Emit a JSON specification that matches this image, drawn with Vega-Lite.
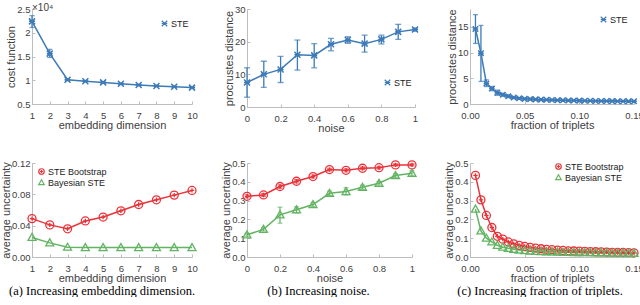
{
  "$schema": "https://vega.github.io/schema/vega-lite/v6.json",
  "padding": {"left": 0, "top": 3, "right": 0, "bottom": 0},
  "background": "white",
  "datasets": {
    "p1": [
      {"x": 1, "y": 22400, "lo": 21100, "hi": 23600},
      {"x": 2, "y": 15600, "lo": 14800, "hi": 16500},
      {"x": 3, "y": 10100, "lo": 9900, "hi": 10300},
      {"x": 4, "y": 9800, "lo": 9650, "hi": 9950},
      {"x": 5, "y": 9550, "lo": 9400, "hi": 9700},
      {"x": 6, "y": 9250, "lo": 9100, "hi": 9400},
      {"x": 7, "y": 9000, "lo": 8850, "hi": 9150},
      {"x": 8, "y": 8800, "lo": 8650, "hi": 8950},
      {"x": 9, "y": 8650, "lo": 8500, "hi": 8800},
      {"x": 10, "y": 8450, "lo": 8300, "hi": 8600}
    ],
    "p2": [
      {"x": 0, "y": 7.5, "lo": 3, "hi": 12},
      {"x": 0.1, "y": 10, "lo": 6, "hi": 14},
      {"x": 0.2, "y": 11.5, "lo": 7.5, "hi": 15.5},
      {"x": 0.3, "y": 16, "lo": 11.3, "hi": 20.5},
      {"x": 0.4, "y": 15.8, "lo": 12, "hi": 19.4},
      {"x": 0.5, "y": 19.2, "lo": 17.2, "hi": 21},
      {"x": 0.6, "y": 20.5, "lo": 19.5, "hi": 21.5},
      {"x": 0.7, "y": 19.4, "lo": 16.8, "hi": 22},
      {"x": 0.8, "y": 20.7, "lo": 19.3, "hi": 22},
      {"x": 0.9, "y": 23, "lo": 20.7, "hi": 25.3},
      {"x": 1.0, "y": 23.7, "lo": 23.2, "hi": 24.2}
    ],
    "p3": [
      {"x": 0.005, "y": 14.6, "lo": 11.8, "hi": 17.4},
      {"x": 0.010, "y": 9.9, "lo": 4.4, "hi": 15.3},
      {"x": 0.015, "y": 4.0, "lo": 3.4, "hi": 4.7},
      {"x": 0.020, "y": 3.0, "lo": 2.6, "hi": 3.4},
      {"x": 0.025, "y": 2.2, "lo": 1.7, "hi": 2.7},
      {"x": 0.030, "y": 1.8, "lo": 1.5, "hi": 2.1},
      {"x": 0.035, "y": 1.5, "lo": 1.25, "hi": 1.8},
      {"x": 0.040, "y": 1.25, "lo": 1.05, "hi": 1.45},
      {"x": 0.045, "y": 1.1, "lo": 0.95, "hi": 1.25},
      {"x": 0.050, "y": 1.0, "lo": 0.85, "hi": 1.15},
      {"x": 0.055, "y": 0.95, "lo": 0.8, "hi": 1.1},
      {"x": 0.060, "y": 0.9, "lo": 0.77, "hi": 1.03},
      {"x": 0.065, "y": 0.85, "lo": 0.73, "hi": 0.97},
      {"x": 0.070, "y": 0.82, "lo": 0.7, "hi": 0.94},
      {"x": 0.075, "y": 0.78, "lo": 0.67, "hi": 0.89},
      {"x": 0.080, "y": 0.75, "lo": 0.65, "hi": 0.85},
      {"x": 0.085, "y": 0.72, "lo": 0.62, "hi": 0.82},
      {"x": 0.090, "y": 0.7, "lo": 0.6, "hi": 0.8},
      {"x": 0.095, "y": 0.68, "lo": 0.59, "hi": 0.77},
      {"x": 0.100, "y": 0.66, "lo": 0.57, "hi": 0.75},
      {"x": 0.105, "y": 0.64, "lo": 0.56, "hi": 0.72},
      {"x": 0.110, "y": 0.62, "lo": 0.54, "hi": 0.7},
      {"x": 0.115, "y": 0.6, "lo": 0.53, "hi": 0.67},
      {"x": 0.120, "y": 0.58, "lo": 0.51, "hi": 0.65},
      {"x": 0.125, "y": 0.57, "lo": 0.5, "hi": 0.64},
      {"x": 0.130, "y": 0.56, "lo": 0.49, "hi": 0.63},
      {"x": 0.135, "y": 0.55, "lo": 0.48, "hi": 0.62},
      {"x": 0.140, "y": 0.54, "lo": 0.47, "hi": 0.61},
      {"x": 0.145, "y": 0.53, "lo": 0.47, "hi": 0.59},
      {"x": 0.150, "y": 0.52, "lo": 0.46, "hi": 0.58}
    ],
    "p4": [
      {"s": "STE Bootstrap", "x": 1, "y": 0.049},
      {"s": "STE Bootstrap", "x": 2, "y": 0.041},
      {"s": "STE Bootstrap", "x": 3, "y": 0.036},
      {"s": "STE Bootstrap", "x": 4, "y": 0.046},
      {"s": "STE Bootstrap", "x": 5, "y": 0.051},
      {"s": "STE Bootstrap", "x": 6, "y": 0.059},
      {"s": "STE Bootstrap", "x": 7, "y": 0.067},
      {"s": "STE Bootstrap", "x": 8, "y": 0.073},
      {"s": "STE Bootstrap", "x": 9, "y": 0.079},
      {"s": "STE Bootstrap", "x": 10, "y": 0.085},
      {"s": "Bayesian STE", "x": 1, "y": 0.025},
      {"s": "Bayesian STE", "x": 2, "y": 0.018},
      {"s": "Bayesian STE", "x": 3, "y": 0.0125},
      {"s": "Bayesian STE", "x": 4, "y": 0.012},
      {"s": "Bayesian STE", "x": 5, "y": 0.012},
      {"s": "Bayesian STE", "x": 6, "y": 0.012},
      {"s": "Bayesian STE", "x": 7, "y": 0.012},
      {"s": "Bayesian STE", "x": 8, "y": 0.012},
      {"s": "Bayesian STE", "x": 9, "y": 0.012},
      {"s": "Bayesian STE", "x": 10, "y": 0.012}
    ],
    "p5": [
      {"s": "STE Bootstrap", "x": 0, "y": 0.323, "lo": 0.315, "hi": 0.331},
      {"s": "STE Bootstrap", "x": 0.1, "y": 0.33, "lo": 0.322, "hi": 0.338},
      {"s": "STE Bootstrap", "x": 0.2, "y": 0.375, "lo": 0.366, "hi": 0.384},
      {"s": "STE Bootstrap", "x": 0.3, "y": 0.403, "lo": 0.394, "hi": 0.412},
      {"s": "STE Bootstrap", "x": 0.4, "y": 0.428, "lo": 0.42, "hi": 0.436},
      {"s": "STE Bootstrap", "x": 0.5, "y": 0.465, "lo": 0.458, "hi": 0.472},
      {"s": "STE Bootstrap", "x": 0.6, "y": 0.461, "lo": 0.453, "hi": 0.469},
      {"s": "STE Bootstrap", "x": 0.7, "y": 0.472, "lo": 0.465, "hi": 0.479},
      {"s": "STE Bootstrap", "x": 0.8, "y": 0.475, "lo": 0.468, "hi": 0.482},
      {"s": "STE Bootstrap", "x": 0.9, "y": 0.49, "lo": 0.484, "hi": 0.496},
      {"s": "STE Bootstrap", "x": 1.0, "y": 0.49, "lo": 0.484, "hi": 0.496},
      {"s": "Bayesian STE", "x": 0, "y": 0.118, "lo": 0.11, "hi": 0.126},
      {"s": "Bayesian STE", "x": 0.1, "y": 0.147, "lo": 0.138, "hi": 0.156},
      {"s": "Bayesian STE", "x": 0.2, "y": 0.224, "lo": 0.18, "hi": 0.265},
      {"s": "Bayesian STE", "x": 0.3, "y": 0.251, "lo": 0.235, "hi": 0.267},
      {"s": "Bayesian STE", "x": 0.4, "y": 0.279, "lo": 0.268, "hi": 0.29},
      {"s": "Bayesian STE", "x": 0.5, "y": 0.339, "lo": 0.328, "hi": 0.35},
      {"s": "Bayesian STE", "x": 0.6, "y": 0.348, "lo": 0.33, "hi": 0.368},
      {"s": "Bayesian STE", "x": 0.7, "y": 0.371, "lo": 0.36, "hi": 0.382},
      {"s": "Bayesian STE", "x": 0.8, "y": 0.392, "lo": 0.382, "hi": 0.402},
      {"s": "Bayesian STE", "x": 0.9, "y": 0.433, "lo": 0.423, "hi": 0.443},
      {"s": "Bayesian STE", "x": 1.0, "y": 0.445, "lo": 0.432, "hi": 0.458}
    ],
    "p6": [
      {"s": "STE Bootstrap", "x": 0.005, "y": 0.434},
      {"s": "STE Bootstrap", "x": 0.010, "y": 0.304},
      {"s": "STE Bootstrap", "x": 0.015, "y": 0.221},
      {"s": "STE Bootstrap", "x": 0.020, "y": 0.157},
      {"s": "STE Bootstrap", "x": 0.025, "y": 0.11},
      {"s": "STE Bootstrap", "x": 0.030, "y": 0.095},
      {"s": "STE Bootstrap", "x": 0.035, "y": 0.08},
      {"s": "STE Bootstrap", "x": 0.040, "y": 0.07},
      {"s": "STE Bootstrap", "x": 0.045, "y": 0.062},
      {"s": "STE Bootstrap", "x": 0.050, "y": 0.056},
      {"s": "STE Bootstrap", "x": 0.055, "y": 0.051},
      {"s": "STE Bootstrap", "x": 0.060, "y": 0.047},
      {"s": "STE Bootstrap", "x": 0.065, "y": 0.044},
      {"s": "STE Bootstrap", "x": 0.070, "y": 0.041},
      {"s": "STE Bootstrap", "x": 0.075, "y": 0.039},
      {"s": "STE Bootstrap", "x": 0.080, "y": 0.037},
      {"s": "STE Bootstrap", "x": 0.085, "y": 0.035},
      {"s": "STE Bootstrap", "x": 0.090, "y": 0.033},
      {"s": "STE Bootstrap", "x": 0.095, "y": 0.032},
      {"s": "STE Bootstrap", "x": 0.100, "y": 0.031},
      {"s": "STE Bootstrap", "x": 0.105, "y": 0.03},
      {"s": "STE Bootstrap", "x": 0.110, "y": 0.029},
      {"s": "STE Bootstrap", "x": 0.115, "y": 0.028},
      {"s": "STE Bootstrap", "x": 0.120, "y": 0.027},
      {"s": "STE Bootstrap", "x": 0.125, "y": 0.026},
      {"s": "STE Bootstrap", "x": 0.130, "y": 0.025},
      {"s": "STE Bootstrap", "x": 0.135, "y": 0.024},
      {"s": "STE Bootstrap", "x": 0.140, "y": 0.024},
      {"s": "STE Bootstrap", "x": 0.145, "y": 0.023},
      {"s": "STE Bootstrap", "x": 0.150, "y": 0.022},
      {"s": "Bayesian STE", "x": 0.005, "y": 0.255},
      {"s": "Bayesian STE", "x": 0.010, "y": 0.139},
      {"s": "Bayesian STE", "x": 0.015, "y": 0.1},
      {"s": "Bayesian STE", "x": 0.020, "y": 0.08},
      {"s": "Bayesian STE", "x": 0.025, "y": 0.062},
      {"s": "Bayesian STE", "x": 0.030, "y": 0.052},
      {"s": "Bayesian STE", "x": 0.035, "y": 0.046},
      {"s": "Bayesian STE", "x": 0.040, "y": 0.041},
      {"s": "Bayesian STE", "x": 0.045, "y": 0.037},
      {"s": "Bayesian STE", "x": 0.050, "y": 0.034},
      {"s": "Bayesian STE", "x": 0.055, "y": 0.032},
      {"s": "Bayesian STE", "x": 0.060, "y": 0.03},
      {"s": "Bayesian STE", "x": 0.065, "y": 0.029},
      {"s": "Bayesian STE", "x": 0.070, "y": 0.028},
      {"s": "Bayesian STE", "x": 0.075, "y": 0.027},
      {"s": "Bayesian STE", "x": 0.080, "y": 0.026},
      {"s": "Bayesian STE", "x": 0.085, "y": 0.025},
      {"s": "Bayesian STE", "x": 0.090, "y": 0.025},
      {"s": "Bayesian STE", "x": 0.095, "y": 0.024},
      {"s": "Bayesian STE", "x": 0.100, "y": 0.024},
      {"s": "Bayesian STE", "x": 0.105, "y": 0.023},
      {"s": "Bayesian STE", "x": 0.110, "y": 0.023},
      {"s": "Bayesian STE", "x": 0.115, "y": 0.022},
      {"s": "Bayesian STE", "x": 0.120, "y": 0.022},
      {"s": "Bayesian STE", "x": 0.125, "y": 0.022},
      {"s": "Bayesian STE", "x": 0.130, "y": 0.021},
      {"s": "Bayesian STE", "x": 0.135, "y": 0.021},
      {"s": "Bayesian STE", "x": 0.140, "y": 0.021},
      {"s": "Bayesian STE", "x": 0.145, "y": 0.02},
      {"s": "Bayesian STE", "x": 0.150, "y": 0.02}
    ]
  },
  "columns": 3,
  "spacing": {"row": 56, "column": 55},
  "align": "each",
  "bounds": "flush",
  "resolve": {"scale": {"x": "independent", "y": "independent", "color": "independent", "shape": "independent"}, "legend": {"color": "independent", "shape": "independent"}},
  "concat": [
    {
      "width": 160, "height": 95,
      "data": {"name": "p1"},
      "title": {"text": "×10⁴", "orient": "top", "anchor": "start", "frame": "group", "offset": -9, "font": "Liberation Sans", "fontSize": 10, "color": "#404040", "dx": 0},
      "encoding": {
        "x": {"field": "x", "type": "quantitative", "scale": {"domain": [1, 10], "nice": false, "zero": false}, "axis": {"title": "embedding dimension", "values": [1,2,3,4,5,6,7,8,9,10], "format": "d"}},
        "y": {"field": "y", "type": "quantitative", "scale": {"domain": [5000, 25000], "nice": false, "zero": false}, "axis": {"title": "cost function", "values": [5000, 10000, 15000, 20000, 25000], "labelExpr": "format(datum.value/10000, '~g')"}}
      },
      "layer": [
        {"mark": {"type": "rule", "color": "#3d7ab8", "strokeWidth": 1.3}, "encoding": {"y": {"field": "lo", "type": "quantitative"}, "y2": {"field": "hi"}}},
        {"mark": {"type": "tick", "orient": "horizontal", "color": "#3d7ab8", "size": 5, "thickness": 1.3}, "encoding": {"y": {"field": "lo", "type": "quantitative"}}},
        {"mark": {"type": "tick", "orient": "horizontal", "color": "#3d7ab8", "size": 5, "thickness": 1.3}, "encoding": {"y": {"field": "hi", "type": "quantitative"}}},
        {"mark": {"type": "line", "color": "#3d7ab8", "strokeWidth": 1.5}},
        {"mark": {"type": "point", "filled": false, "size": 36, "strokeWidth": 1.5, "opacity": 1},
         "encoding": {
           "color": {"datum": "STE", "scale": {"domain": ["STE"], "range": ["#3d7ab8"]}, "legend": {"legendX": 128, "legendY": 10}},
           "shape": {"datum": "STE", "scale": {"domain": ["STE"], "range": ["M-1,-1L1,1M-1,1L1,-1M-1,0L1,0"]}, "legend": {"legendX": 128, "legendY": 10}}
         }}
      ]
    },
    {
      "width": 168, "height": 98,
      "data": {"name": "p2"},
      "encoding": {
        "x": {"field": "x", "type": "quantitative", "scale": {"domain": [0, 1], "nice": false}, "axis": {"title": "noise", "values": [0, 0.2, 0.4, 0.6, 0.8, 1], "format": "~g"}},
        "y": {"field": "y", "type": "quantitative", "scale": {"domain": [0, 30], "nice": false}, "axis": {"title": "procrustes distance", "values": [0, 10, 20, 30]}}
      },
      "layer": [
        {"mark": {"type": "rule", "color": "#3d7ab8", "strokeWidth": 1.3}, "encoding": {"y": {"field": "lo", "type": "quantitative"}, "y2": {"field": "hi"}}},
        {"mark": {"type": "tick", "orient": "horizontal", "color": "#3d7ab8", "size": 6, "thickness": 1.3}, "encoding": {"y": {"field": "lo", "type": "quantitative"}}},
        {"mark": {"type": "tick", "orient": "horizontal", "color": "#3d7ab8", "size": 6, "thickness": 1.3}, "encoding": {"y": {"field": "hi", "type": "quantitative"}}},
        {"mark": {"type": "line", "color": "#3d7ab8", "strokeWidth": 1.5}},
        {"mark": {"type": "point", "filled": false, "size": 36, "strokeWidth": 1.5, "opacity": 1},
         "encoding": {
           "color": {"datum": "STE", "scale": {"domain": ["STE"], "range": ["#3d7ab8"]}, "legend": {"legendX": 136, "legendY": 69}},
           "shape": {"datum": "STE", "scale": {"domain": ["STE"], "range": ["M-1,-1L1,1M-1,1L1,-1M-1,0L1,0"]}, "legend": {"legendX": 136, "legendY": 69}}
         }}
      ]
    },
    {
      "width": 164, "height": 95,
      "data": {"name": "p3"},
      "encoding": {
        "x": {"field": "x", "type": "quantitative", "scale": {"domain": [0, 0.15], "nice": false}, "axis": {"title": "fraction of triplets", "values": [0, 0.05, 0.1, 0.15], "format": ".2f"}},
        "y": {"field": "y", "type": "quantitative", "scale": {"domain": [0, 18.5], "nice": false}, "axis": {"title": "procrustes distance", "values": [0, 5, 10, 15]}}
      },
      "layer": [
        {"mark": {"type": "rule", "color": "#3d7ab8", "strokeWidth": 1.3}, "encoding": {"y": {"field": "lo", "type": "quantitative"}, "y2": {"field": "hi"}}},
        {"mark": {"type": "tick", "orient": "horizontal", "color": "#3d7ab8", "size": 5, "thickness": 1.3}, "encoding": {"y": {"field": "lo", "type": "quantitative"}}},
        {"mark": {"type": "tick", "orient": "horizontal", "color": "#3d7ab8", "size": 5, "thickness": 1.3}, "encoding": {"y": {"field": "hi", "type": "quantitative"}}},
        {"mark": {"type": "line", "color": "#3d7ab8", "strokeWidth": 1.5}},
        {"mark": {"type": "point", "filled": false, "size": 30, "strokeWidth": 1.5, "opacity": 1},
         "encoding": {
           "color": {"datum": "STE", "scale": {"domain": ["STE"], "range": ["#3d7ab8"]}, "legend": {"legendX": 129, "legendY": 6}},
           "shape": {"datum": "STE", "scale": {"domain": ["STE"], "range": ["M-1,-1L1,1M-1,1L1,-1M-1,0L1,0"]}, "legend": {"legendX": 129, "legendY": 6}}
         }}
      ]
    },
    {
      "width": 160, "height": 94,
      "data": {"name": "p4"},
      "title": {"text": "(a) Increasing embedding dimension.", "orient": "bottom", "anchor": "middle", "frame": "group", "offset": 1, "dx": -10},
      "encoding": {
        "x": {"field": "x", "type": "quantitative", "scale": {"domain": [1, 10], "nice": false, "zero": false}, "axis": {"title": "embedding dimension", "values": [1,2,3,4,5,6,7,8,9,10], "format": "d"}},
        "y": {"field": "y", "type": "quantitative", "scale": {"domain": [0, 0.12], "nice": false}, "axis": {"title": "average uncertainty", "values": [0, 0.04, 0.08, 0.12], "format": ".2f"}},
        "color": {"field": "s", "type": "nominal", "scale": {"domain": ["STE Bootstrap", "Bayesian STE"], "range": ["#e8333a", "#62b462"]}, "legend": {"legendX": 5, "legendY": 4}}
      },
      "layer": [
        {"mark": {"type": "line", "strokeWidth": 1.5}},
        {"mark": {"type": "point", "filled": false, "size": 64, "strokeWidth": 1.3, "opacity": 1},
         "encoding": {
           "shape": {"field": "s", "type": "nominal", "scale": {"domain": ["STE Bootstrap", "Bayesian STE"], "range": ["M-1,0A1,1,0,1,1,1,0A1,1,0,1,1,-1,0M-0.55,0L0.55,0M0,-0.55L0,0.55", "M0,-1L1,0.75L-1,0.75Z"]}, "legend": {"legendX": 5, "legendY": 4}}
         }}
      ]
    },
    {
      "width": 165, "height": 94,
      "data": {"name": "p5"},
      "title": {"text": "(b) Increasing noise.", "orient": "bottom", "anchor": "middle", "frame": "group", "offset": 1, "dx": -11},
      "encoding": {
        "x": {"field": "x", "type": "quantitative", "scale": {"domain": [0, 1], "nice": false}, "axis": {"title": "noise", "values": [0, 0.2, 0.4, 0.6, 0.8, 1], "format": "~g"}},
        "y": {"field": "y", "type": "quantitative", "scale": {"domain": [0, 0.5], "nice": false}, "axis": {"title": "average uncertainty", "values": [0, 0.1, 0.2, 0.3, 0.4, 0.5], "format": ".1f"}},
        "color": {"field": "s", "type": "nominal", "scale": {"domain": ["STE Bootstrap", "Bayesian STE"], "range": ["#e8333a", "#62b462"]}, "legend": {"legendX": 90, "legendY": 57}}
      },
      "layer": [
        {"mark": {"type": "rule", "strokeWidth": 1.2}, "encoding": {"y": {"field": "lo", "type": "quantitative"}, "y2": {"field": "hi"}, "color": {"field": "s", "type": "nominal", "legend": null}}},
        {"mark": {"type": "tick", "orient": "horizontal", "size": 5, "thickness": 1.2}, "encoding": {"y": {"field": "lo", "type": "quantitative"}, "color": {"field": "s", "type": "nominal", "legend": null}}},
        {"mark": {"type": "tick", "orient": "horizontal", "size": 5, "thickness": 1.2}, "encoding": {"y": {"field": "hi", "type": "quantitative"}, "color": {"field": "s", "type": "nominal", "legend": null}}},
        {"mark": {"type": "line", "strokeWidth": 1.5}},
        {"mark": {"type": "point", "filled": false, "size": 64, "strokeWidth": 1.3, "opacity": 1},
         "encoding": {
           "shape": {"field": "s", "type": "nominal", "scale": {"domain": ["STE Bootstrap", "Bayesian STE"], "range": ["M-1,0A1,1,0,1,1,1,0A1,1,0,1,1,-1,0M-0.55,0L0.55,0M0,-0.55L0,0.55", "M0,-1L1,0.75L-1,0.75Z"]}, "legend": {"legendX": 90, "legendY": 57}}
         }}
      ]
    },
    {
      "width": 164, "height": 94,
      "data": {"name": "p6"},
      "title": {"text": "(c) Increasing fraction of triplets.", "orient": "bottom", "anchor": "middle", "frame": "group", "offset": 1, "dx": -12},
      "encoding": {
        "x": {"field": "x", "type": "quantitative", "scale": {"domain": [0, 0.15], "nice": false}, "axis": {"title": "fraction of triplets", "values": [0, 0.05, 0.1, 0.15], "format": ".2f"}},
        "y": {"field": "y", "type": "quantitative", "scale": {"domain": [0, 0.5], "nice": false}, "axis": {"title": "average uncertainty", "values": [0, 0.1, 0.2, 0.3, 0.4, 0.5], "format": ".1f"}},
        "color": {"field": "s", "type": "nominal", "scale": {"domain": ["STE Bootstrap", "Bayesian STE"], "range": ["#e8333a", "#62b462"]}, "legend": {"legendX": 84, "legendY": -1}}
      },
      "layer": [
        {"mark": {"type": "line", "strokeWidth": 1.5}},
        {"mark": {"type": "point", "filled": false, "size": 64, "strokeWidth": 1.3, "opacity": 1},
         "encoding": {
           "shape": {"field": "s", "type": "nominal", "scale": {"domain": ["STE Bootstrap", "Bayesian STE"], "range": ["M-1,0A1,1,0,1,1,1,0A1,1,0,1,1,-1,0M-0.55,0L0.55,0M0,-0.55L0,0.55", "M0,-1L1,0.75L-1,0.75Z"]}, "legend": {"legendX": 84, "legendY": -1}}
         }}
      ]
    }
  ],
  "config": {
    "view": {"stroke": null},
    "font": "Liberation Sans",
    "axis": {"grid": false, "domainColor": "#bdbdbd", "domainWidth": 1, "tickColor": "#bdbdbd", "tickSize": -3, "labelColor": "#404040", "titleColor": "#404040", "labelFontSize": 9.5, "titleFontSize": 11, "titleFontWeight": "normal", "titlePadding": 0, "labelFont": "Liberation Sans", "titleFont": "Liberation Sans", "labelFlush": false, "labelOverlap": false},
    "axisX": {"labelPadding": 9, "titlePadding": 0},
    "axisY": {"labelPadding": 5},
    "legend": {"orient": "none", "title": null, "labelFontSize": 9, "labelColor": "#222222", "labelFont": "Liberation Sans", "symbolSize": 30, "symbolStrokeWidth": 1.2, "rowPadding": 0, "padding": 0, "labelOffset": 2},
    "title": {"font": "Liberation Serif", "fontSize": 12.5, "fontWeight": "normal", "color": "#000000"}
  }
}
